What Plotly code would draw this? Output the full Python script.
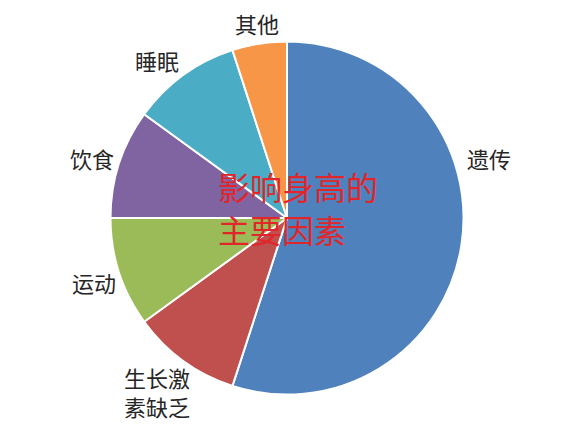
import plotly.graph_objects as go

categories = ["遗传", "生长激素缺乏", "运动", "饮食", "睡眠", "其他"]
label_text = ["遗传", "生长激<br>素缺乏", "运动", "饮食", "睡眠", "其他"]
values = [55, 10, 10, 10, 10, 5]
colors = ["#4f81bd", "#c0504d", "#9bbb59", "#8064a2", "#4bacc6", "#f79646"]
title_lines = ["影响身高的", "主要因素"]

W, H = 571, 430
OFF = 8  # page body margin offset
# label pixel positions (layout only)
label_pos = [(489, 158), (157, 391), (94, 282), (92, 158), (157, 60), (257, 23)]
title_pos = [(217, 186), (217, 229)]

cx, cy, r = 287 - OFF, 218 - OFF, 176.5
fig = go.Figure(go.Pie(
    labels=categories, values=values, sort=False, direction="clockwise",
    rotation=0, marker=dict(colors=colors, line=dict(color="white", width=2)),
    textinfo="none", hoverinfo="label+percent", showlegend=False,
    domain=dict(x=[(cx - r) / W, (cx + r) / W], y=[(H - cy - r) / H, (H - cy + r) / H]),
))

font_lbl = dict(family="Noto Sans CJK SC", size=22, color="#262626")
for t, (px, py) in zip(label_text, label_pos):
    fig.add_annotation(x=(px - OFF) / W, y=1 - (py - OFF) / H, xref="paper", yref="paper",
                       text=t, showarrow=False, font=font_lbl, borderpad=0,
                       xanchor="center", yanchor="middle", align="left")

for t, (px, py) in zip(title_lines, title_pos):
    fig.add_annotation(x=(px - OFF) / W, y=1 - (py - OFF) / H, xref="paper", yref="paper",
                       text=t, showarrow=False, align="left", borderpad=0,
                       xanchor="left", yanchor="middle",
                       font=dict(family="Noto Sans CJK SC", size=32, color="#e0262a"))

fig.update_layout(width=W, height=H, margin=dict(l=0, r=0, t=0, b=0),
                  paper_bgcolor="white", plot_bgcolor="white")
fig.write_html("out.html")
